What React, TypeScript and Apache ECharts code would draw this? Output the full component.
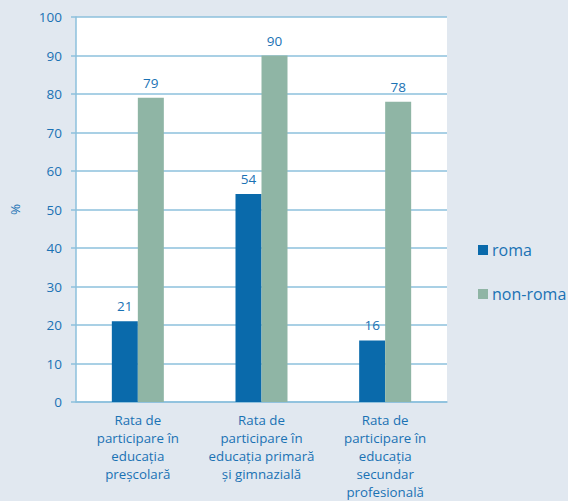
import React, { useEffect, useRef } from "react";
import * as echarts from "echarts";

const categories = [
  "Rata de\nparticipare în\neducația\npreșcolară",
  "Rata de\nparticipare în\neducația primară\nși gimnazială",
  "Rata de\nparticipare în\neducația\nsecundar\nprofesională",
];
const romaValues = [21, 54, 16];
const nonRomaValues = [79, 90, 78];
const seriesNames = ["roma", "non-roma"];
const yTicks = { min: 0, max: 100, interval: 10 };

const TEXT = "#1a72b4";
const GRID = "#8cc0dd";
const FONT = "'Open Sans', sans-serif";

export default function App() {
  const ref = useRef<HTMLDivElement>(null);
  useEffect(() => {
    if (!ref.current) return;
    const chart = echarts.init(ref.current, null, { renderer: "svg" });
    const label = {
      show: true,
      position: "top",
      distance: 8,
      color: TEXT,
      fontSize: 13.5,
      fontFamily: FONT,
    };
    chart.setOption({
      animation: false,
      backgroundColor: "#e1e8f0",
      textStyle: { fontFamily: FONT },
      grid: {
        left: 68,
        top: 17,
        width: 379,
        height: 388,
        show: true,
        backgroundColor: "#ffffff",
        borderWidth: 0,
      },
      legend: {
        orient: "vertical",
        left: 473,
        top: 237,
        itemWidth: 10,
        itemHeight: 10,
        itemGap: 28,
        icon: "rect",
        data: seriesNames,
        textStyle: { color: TEXT, fontSize: 16, fontFamily: FONT, padding: [0, 0, 0, -1] },
      },
      xAxis: {
        type: "category",
        data: categories,
        axisLine: { show: true, lineStyle: { color: GRID, width: 1.5 } },
        axisTick: { show: false },
        axisLabel: {
          color: TEXT,
          fontSize: 13.3,
          fontFamily: FONT,
          lineHeight: 18,
          margin: 9,
          interval: 0,
        },
      },
      yAxis: {
        type: "value",
        min: yTicks.min,
        max: yTicks.max,
        interval: yTicks.interval,
        name: "%",
        nameLocation: "middle",
        nameGap: 54,
        nameRotate: 90,
        nameTextStyle: { color: TEXT, fontSize: 13.5, fontFamily: FONT },
        axisLine: { show: true, lineStyle: { color: GRID, width: 1.5 } },
        axisTick: { show: true, length: 5, lineStyle: { color: GRID, width: 1.5 } },
        splitLine: { show: true, lineStyle: { color: GRID, width: 1.5 } },
        axisLabel: { color: TEXT, fontSize: 13.5, fontFamily: FONT, margin: 14 },
      },
      series: [
        {
          name: seriesNames[0],
          type: "bar",
          data: romaValues,
          barWidth: 26,
          barGap: "0%",
          itemStyle: { color: "#0a6aab" },
          label,
        },
        {
          name: seriesNames[1],
          type: "bar",
          data: nonRomaValues,
          barWidth: 26,
          barGap: "0%",
          itemStyle: { color: "#8fb5a5" },
          label,
        },
      ],
    });
    return () => chart.dispose();
  }, []);
  return (
    <div
      ref={ref}
      style={{ position: "fixed", left: 0, top: 0, width: 568, height: 501 }}
    />
  );
}
